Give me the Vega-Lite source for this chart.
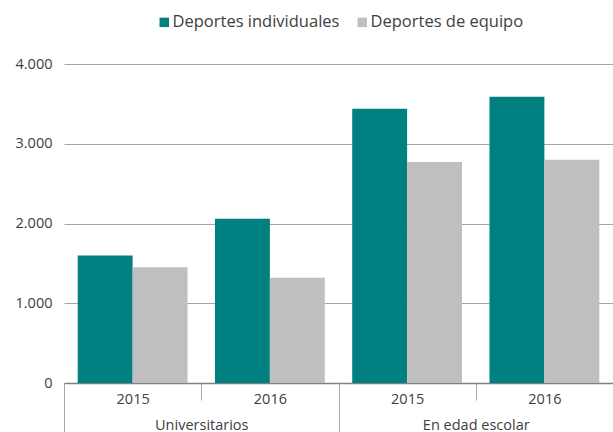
{
  "$schema": "https://vega.github.io/schema/vega-lite/v6.json",
  "width": 549,
  "height": 319,
  "autosize": {"type": "none"},
  "padding": {"left": 64, "top": 64, "right": 0, "bottom": 49},
  "data": {
    "values": [
      {"category": "Universitarios", "year": "2015", "key": "Universitarios|2015", "series": "Deportes individuales", "value": 1600},
      {"category": "Universitarios", "year": "2015", "key": "Universitarios|2015", "series": "Deportes de equipo", "value": 1450},
      {"category": "Universitarios", "year": "2016", "key": "Universitarios|2016", "series": "Deportes individuales", "value": 2060},
      {"category": "Universitarios", "year": "2016", "key": "Universitarios|2016", "series": "Deportes de equipo", "value": 1320},
      {"category": "En edad escolar", "year": "2015", "key": "En edad escolar|2015", "series": "Deportes individuales", "value": 3440},
      {"category": "En edad escolar", "year": "2015", "key": "En edad escolar|2015", "series": "Deportes de equipo", "value": 2770},
      {"category": "En edad escolar", "year": "2016", "key": "En edad escolar|2016", "series": "Deportes individuales", "value": 3590},
      {"category": "En edad escolar", "year": "2016", "key": "En edad escolar|2016", "series": "Deportes de equipo", "value": 2800}
    ]
  },
  "layer": [
    {
      "mark": {"type": "bar"},
      "encoding": {
        "x": {
          "field": "key", "type": "nominal", "sort": null,
          "scale": {"paddingInner": 0, "paddingOuter": 0},
          "axis": {"title": null, "orient": "bottom", "labelExpr": "split(datum.value, '|')[1]", "tickBand": "extent", "tickSize": 17, "tickColor": "#a6a6a6", "domainColor": "#808080", "domainWidth": 1.5, "labelPadding": -8, "labelAngle": 0}
        },
        "xOffset": {"field": "series", "sort": null, "scale": {"paddingOuter": 0.25, "paddingInner": 0}},
        "y": {
          "field": "value", "type": "quantitative",
          "scale": {"domain": [0, 4000]},
          "axis": {"title": null, "values": [0, 1000, 2000, 3000, 4000], "format": ",d", "domain": false, "ticks": false, "gridColor": "#a6a6a6", "gridWidth": 1.2, "labelPadding": 12}
        },
        "color": {
          "field": "series", "type": "nominal", "sort": null,
          "scale": {"range": ["#008080", "#bfbfbf"]},
          "legend": {"title": null, "orient": "none", "legendX": 92, "legendY": -50, "direction": "horizontal", "symbolType": "square", "symbolSize": 90, "labelFontSize": 16.5, "labelColor": "#404040", "labelFont": "Open Sans", "labelLimit": 400, "columnPadding": 14, "symbolOffset": 0, "labelOffset": 0}
        }
      }
    },
    {
      "mark": {"type": "point", "opacity": 0},
      "encoding": {
        "x": {
          "field": "category", "type": "nominal", "sort": null,
          "scale": {"paddingInner": 0, "paddingOuter": 0},
          "axis": {"title": null, "orient": "bottom", "domain": false, "grid": false, "tickBand": "extent", "tickSize": 49, "tickColor": "#a6a6a6", "labelPadding": -14, "labelAngle": 0}
        }
      }
    }
  ],
  "resolve": {"scale": {"x": "independent"}, "axis": {"x": "independent"}},
  "config": {
    "view": {"stroke": null},
    "axis": {"labelFont": "Open Sans", "labelFontSize": 14.5, "labelColor": "#404040"},
    "locale": {"number": {"decimal": ",", "thousands": ".", "grouping": [3], "currency": ["", " €"]}}
  }
}
